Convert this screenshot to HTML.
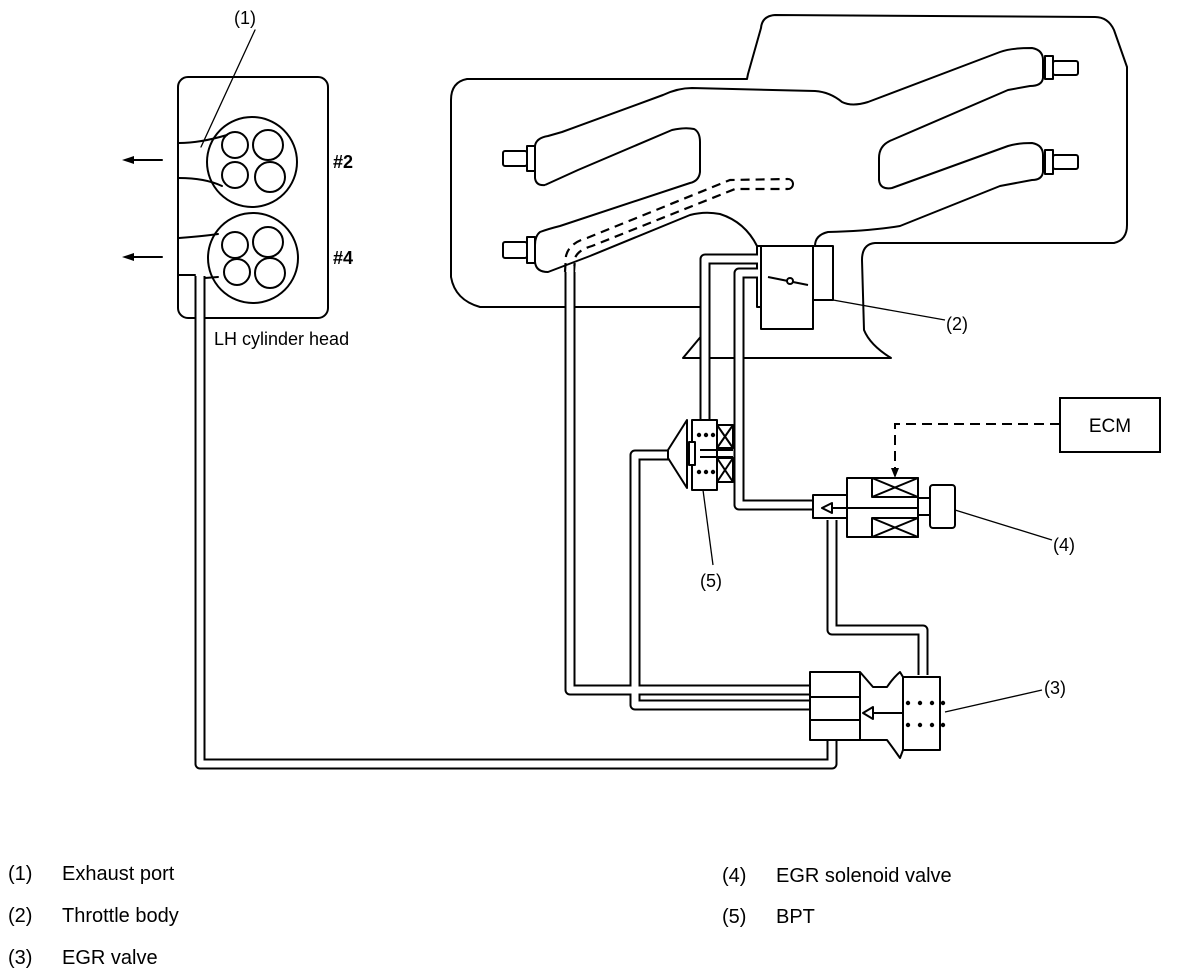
<!DOCTYPE html>
<html><head><meta charset="utf-8"><style>
html,body{margin:0;padding:0;background:#fff;}
svg{display:block;}
text{font-family:"Liberation Sans",Arial,sans-serif;fill:#000;}
</style></head><body>
<svg width="1184" height="976" viewBox="0 0 1184 976" xmlns="http://www.w3.org/2000/svg">
<g fill="none" stroke="#000" stroke-width="2" stroke-linejoin="round" stroke-linecap="round">
<!-- LH cylinder head -->
<rect x="178" y="77" width="150" height="241" rx="10"/>
<circle cx="252" cy="162" r="45"/>
<circle cx="235" cy="145" r="13"/><circle cx="268" cy="145" r="15"/>
<circle cx="235" cy="175" r="13"/><circle cx="270" cy="177" r="15"/>
<circle cx="253" cy="258" r="45"/>
<circle cx="235" cy="245" r="13"/><circle cx="268" cy="242" r="15"/>
<circle cx="237" cy="272" r="13"/><circle cx="270" cy="273" r="15"/>
<path d="M179,143 Q200,143 227,135"/>
<path d="M179,178 Q205,178 222,186"/>
<path d="M179,238 Q205,236 218,234"/>
<path d="M179,275 L195,275"/>
<path d="M205,278 L218,277"/>
<path d="M255,30 L201,147" stroke-width="1.3"/>
<path d="M162,160 L132,160"/><path d="M162,257 L132,257"/>
</g>
<path d="M122,160 L134,156 L134,164 Z"/><path d="M122,257 L134,253 L134,261 Z"/>

<!-- intake manifold outline -->
<g fill="none" stroke="#000" stroke-width="2" stroke-linejoin="round">
<path d="M703,334 L683,358 L891,358 Q870,345 864,330 L862,260 Q862,244 875,243 L1114,243 Q1127,240 1127,225 L1127,67 L1114,30 Q1108,17 1095,17 L775,15 Q762,16 761,28 L748,74 L747,79 L467,79 Q451,82 451,100 L451,277 Q455,300 480,307 L703,307"/>
<rect x="503" y="151" width="24" height="15" rx="2"/>
<rect x="527" y="146" width="8" height="25"/>
<path d="M535,170 L535,178 Q536,186 545,185"/>
<path d="M535,146 Q536,138 548,136 L562,132 L663,95 Q678,88 692,88 L815,91 Q830,92 842,102 Q852,107 868,102 L1000,52 Q1010,48 1032,48 Q1043,50 1043,60 L1043,78 Q1042,86 1030,86 L1008,90 L892,140 Q879,145 879,158 L879,180 Q880,190 892,188 L1008,146 Q1018,143 1032,143 Q1043,145 1043,155 L1043,172 Q1042,180 1032,180 L1000,186 L900,226 Q870,231 828,232 Q815,235 815,246"/>
<path d="M545,185 L578,170 L672,130 Q685,127 694,129 Q700,132 700,142 L700,172 Q699,181 690,183 L560,226 Q548,229 540,232 Q535,236 535,245"/>
<path d="M535,245 L535,262 Q536,272 548,272 L590,256 L690,215 Q705,211 720,214 Q745,222 757,246"/>
<rect x="503" y="242" width="24" height="16" rx="2"/>
<rect x="527" y="237" width="8" height="26"/>
<rect x="1045" y="56" width="8" height="23"/><rect x="1053" y="61" width="25" height="14" rx="2"/>
<rect x="1045" y="150" width="8" height="24"/><rect x="1053" y="155" width="25" height="14" rx="2"/>
<rect x="761" y="246" width="52" height="83"/>
<rect x="813" y="246" width="20" height="54"/>
<path d="M761,246 L757,246 L757,307 L761,307"/>
<path d="M768,277 L808,285"/>
<path d="M833,300 L945,320" stroke-width="1.3"/>
</g>
<circle cx="790" cy="281" r="3" fill="#fff" stroke="#000" stroke-width="2"/>
<g fill="none" stroke="#000" stroke-width="2.2" stroke-dasharray="9,6">
<path d="M565,272 L566,256 Q569,243 587,238 L730,180 L788,179"/>
<path d="M574,272 L575,258 Q578,250 592,246 L735,189 L788,189"/>
</g>
<path d="M788,179 A5,5 0 0 1 788,189" fill="none" stroke="#000" stroke-width="2"/>

<!-- pipes -->
<g fill="none" stroke="#000" stroke-width="11" stroke-linejoin="round">
<path d="M200,276 L200,764 L832,764 L832,735"/>
<path d="M570,272 L570,690 L872,690"/>
<path d="M687,455 L635,455 L635,705 L862,705"/>
<path d="M757,259 L705,259 L705,421"/>
<path d="M757,273 L739,273 L739,505 L815,505"/>
<path d="M832,520 L832,630 L923,630 L923,675"/>
</g>
<g fill="none" stroke="#fff" stroke-width="7" stroke-linejoin="round">
<path d="M200,274 L200,764 L832,764 L832,735"/>
<path d="M570,266 L570,690 L872,690"/>
<path d="M689,455 L635,455 L635,705 L862,705"/>
<path d="M759,259 L705,259 L705,423"/>
<path d="M759,273 L739,273 L739,505 L817,505"/>
<path d="M832,516 L832,630 L923,630 L923,677"/>
</g>

<!-- BPT -->
<g fill="#fff" stroke="#000" stroke-width="2" stroke-linejoin="round">
<path d="M687,420 L668,450 L668,458 L687,488 Z"/>
<rect x="692" y="420" width="25" height="70"/>
<rect x="717" y="425" width="16" height="23"/>
<rect x="717" y="458" width="16" height="24"/>
<path d="M717,425 L733,448 M733,425 L717,448 M717,458 L733,482 M733,458 L717,482" fill="none"/>
<path d="M700,450 L733,450 M700,457 L733,457" fill="none"/>
<rect x="689" y="442" width="6" height="23"/>
</g>
<g fill="#000"><circle cx="699" cy="435" r="2.2"/><circle cx="706" cy="435" r="2.2"/><circle cx="713" cy="435" r="2.2"/>
<circle cx="699" cy="472" r="2.2"/><circle cx="706" cy="472" r="2.2"/><circle cx="713" cy="472" r="2.2"/></g>
<path d="M703,490 L713,565" stroke="#000" stroke-width="1.3"/>

<!-- solenoid -->
<g fill="#fff" stroke="#000" stroke-width="2" stroke-linejoin="round">
<rect x="847" y="478" width="71" height="59"/>
<rect x="813" y="495" width="34" height="23"/>
<rect x="872" y="478" width="46" height="19"/>
<rect x="872" y="518" width="46" height="19"/>
<path d="M872,478 L918,497 M918,478 L872,497 M872,518 L918,537 M918,518 L872,537" fill="none"/>
<path d="M832,508 L918,508" fill="none"/>
<path d="M822,508 L832,503 L832,513 Z"/>
<rect x="918" y="498" width="12" height="17"/>
<rect x="930" y="485" width="25" height="43" rx="3"/>
</g>
<path d="M955,510 L1052,540" stroke="#000" stroke-width="1.3"/>
<rect x="1060" y="398" width="100" height="54" fill="#fff" stroke="#000" stroke-width="2"/>
<text x="1110" y="432" font-size="19" text-anchor="middle">ECM</text>
<path d="M1060,424 L895,424 L895,470" fill="none" stroke="#000" stroke-width="2" stroke-dasharray="10,6"/>
<path d="M895,478 L891,468 L899,468 Z"/>

<!-- EGR valve -->
<g fill="#fff" stroke="#000" stroke-width="2" stroke-linejoin="round">
<path d="M810,672 L860,672 L873,687 L887,687 Q893,678 900,672 L903,677 L903,750 L900,758 Q893,748 887,740 L873,740 L860,740 L810,740 Z"/>
<path d="M903,677 L940,677 L940,750 L903,750 Z"/>
<path d="M810,697 L860,697 M810,720 L860,720 M860,672 L860,740" fill="none"/>
<path d="M873,713 L903,713" fill="none"/>
<path d="M863,713 L873,707 L873,719 Z"/>
</g>
<g fill="#000"><circle cx="908" cy="703" r="2.2"/><circle cx="920" cy="703" r="2.2"/><circle cx="932" cy="703" r="2.2"/><circle cx="943" cy="703" r="2.2"/>
<circle cx="908" cy="725" r="2.2"/><circle cx="920" cy="725" r="2.2"/><circle cx="932" cy="725" r="2.2"/><circle cx="943" cy="725" r="2.2"/></g>
<path d="M945,712 L1042,690" stroke="#000" stroke-width="1.3"/>

<g font-size="18">
<text x="234" y="24">(1)</text>
<text x="333" y="168" font-weight="bold">#2</text>
<text x="333" y="264" font-weight="bold">#4</text>
<text x="214" y="345">LH cylinder head</text>
<text x="946" y="330">(2)</text>
<text x="1044" y="694">(3)</text>
<text x="1053" y="551">(4)</text>
<text x="700" y="587">(5)</text>
</g>
<g font-size="20">
<text x="8" y="880">(1)</text><text x="62" y="880">Exhaust port</text>
<text x="8" y="922">(2)</text><text x="62" y="922">Throttle body</text>
<text x="8" y="964">(3)</text><text x="62" y="964">EGR valve</text>
<text x="722" y="882">(4)</text><text x="776" y="882">EGR solenoid valve</text>
<text x="722" y="923">(5)</text><text x="776" y="923">BPT</text>
</g>
</svg>
</body></html>
